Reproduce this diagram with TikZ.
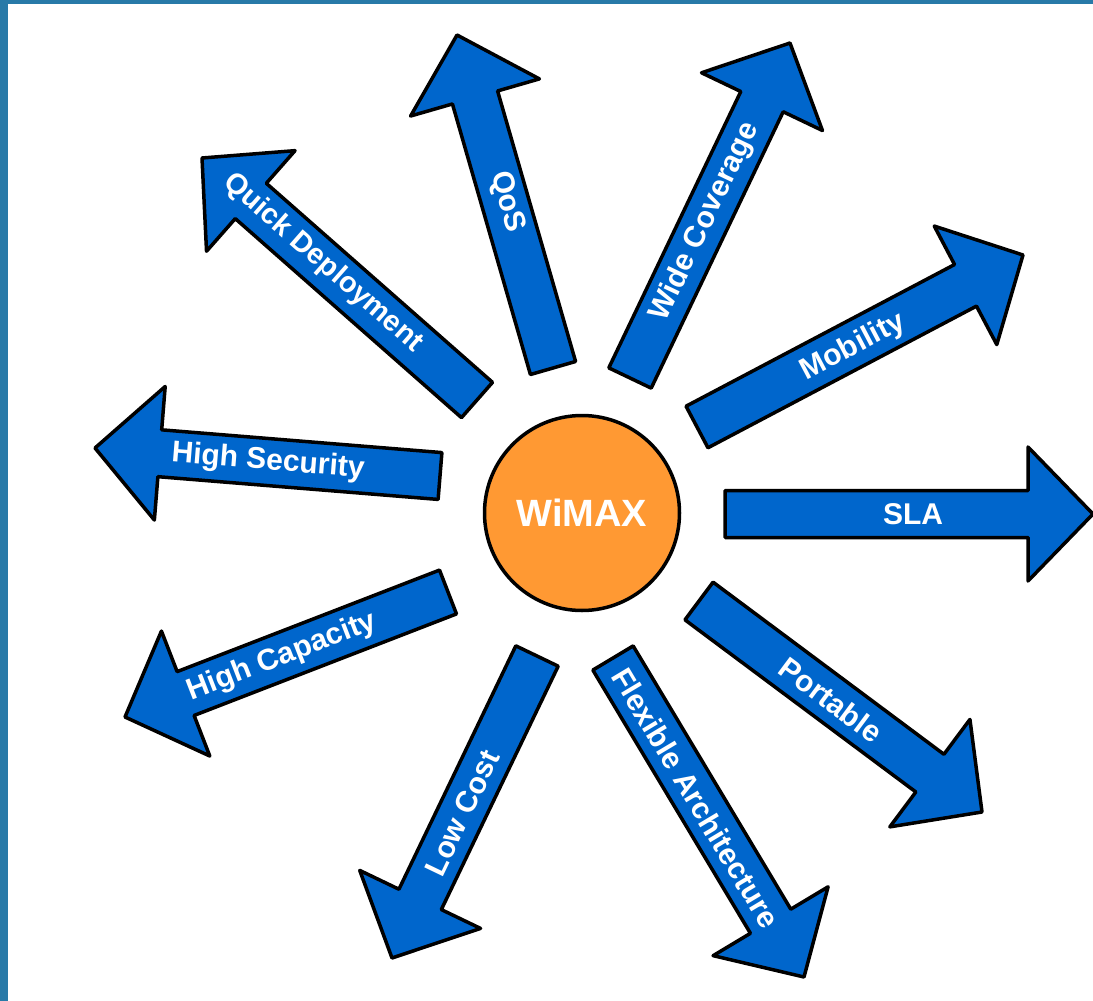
\documentclass[tikz,border=0pt]{standalone}
\usepackage{fontspec}
\setmainfont{Liberation Sans}
\usetikzlibrary{calc}
\definecolor{frameblue}{RGB}{40,122,168}
\definecolor{arrowblue}{RGB}{0,102,204}
\definecolor{wimaxorange}{RGB}{255,153,51}
\tikzset{
  arrowshape/.style={fill=arrowblue, draw=black, line width=3.5pt, line join=round},
  lbl/.style={text=white, font=\fontsize{30}{36}\selectfont\bfseries, inner sep=0pt},
  hub/.style={circle, fill=wimaxorange, draw=black, line width=3.5pt, minimum size=195pt, inner sep=0pt,
    text=white, font=\fontsize{38}{44}\selectfont\bfseries}
}
\newcommand{\fatarrow}[2]{%
  \coordinate (#2-h) at ($(#2)!65pt!(#1)$);
  \path[arrowshape] ($(#1)!23.5pt!90:(#2)$) -- ($(#2-h)!23.5pt!-90:(#1)$) -- ($(#2-h)!67pt!-90:(#1)$)
    -- (#2) -- ($(#2-h)!67pt!90:(#1)$) -- ($(#2-h)!23.5pt!90:(#1)$) -- ($(#1)!23.5pt!-90:(#2)$) -- cycle;}
\begin{document}
\begin{tikzpicture}[x=1pt,y=-1pt]
\useasboundingbox (0,0) rectangle (1093,1001);
\clip (0,0) rectangle (1093,1001);
\fill[white] (0,0) rectangle (1093,1001);
\fill[frameblue] (0,0) rectangle (8,1001);
\fill[frameblue] (0,0) rectangle (1093,3.5);
% arrow tails (A) and tips (B)
\coordinate (qosA) at (553,368);   \coordinate (qosB) at (457,35);
\coordinate (wideA) at (630,378);  \coordinate (wideB) at (790,43);
\coordinate (mobA) at (697,427);   \coordinate (mobB) at (1023,255);
\coordinate (slaA) at (725,514);   \coordinate (slaB) at (1093,514);
\coordinate (portA) at (699,601);  \coordinate (portB) at (982,812);
\coordinate (flexA) at (613,658);  \coordinate (flexB) at (804,977);
\coordinate (lowA) at (537,656);   \coordinate (lowB) at (392,958);
\coordinate (capA) at (448,592);   \coordinate (capB) at (125,717);
\coordinate (secA) at (440,476);   \coordinate (secB) at (95,448);
\coordinate (quickA) at (477,400); \coordinate (quickB) at (202,158);
\fatarrow{qosA}{qosB}
\fatarrow{wideA}{wideB}
\fatarrow{mobA}{mobB}
\fatarrow{slaA}{slaB}
\fatarrow{portA}{portB}
\fatarrow{flexA}{flexB}
\fatarrow{lowA}{lowB}
\fatarrow{capA}{capB}
\fatarrow{secA}{secB}
\fatarrow{quickA}{quickB}
\node[hub] (wimax) at (582,513) {WiMAX};
\node[lbl, rotate=-74] (qosL) at (507,202) {QoS};
\node[lbl, rotate=64.5] (wideL) at (705,222) {Wide Coverage};
\node[lbl, rotate=27.8] (mobL) at (853,347) {Mobility};
\node[lbl] (slaL) at (913,514) {SLA};
\node[lbl, rotate=-36.7] (portL) at (831,700) {Portable};
\node[lbl, rotate=-59.1] (flexL) at (696,798) {Flexible Architecture};
\node[lbl, rotate=64.4] (lowL) at (462,813) {Low Cost};
\node[lbl, rotate=21.2] (capL) at (282,657) {High Capacity};
\node[lbl, rotate=-4.6] (secL) at (268,462) {High Security};
\node[lbl, rotate=-41.3, font=\fontsize{29}{34}\selectfont\bfseries] (quickL) at (323,263) {Quick Deployment};
\end{tikzpicture}
\end{document}
